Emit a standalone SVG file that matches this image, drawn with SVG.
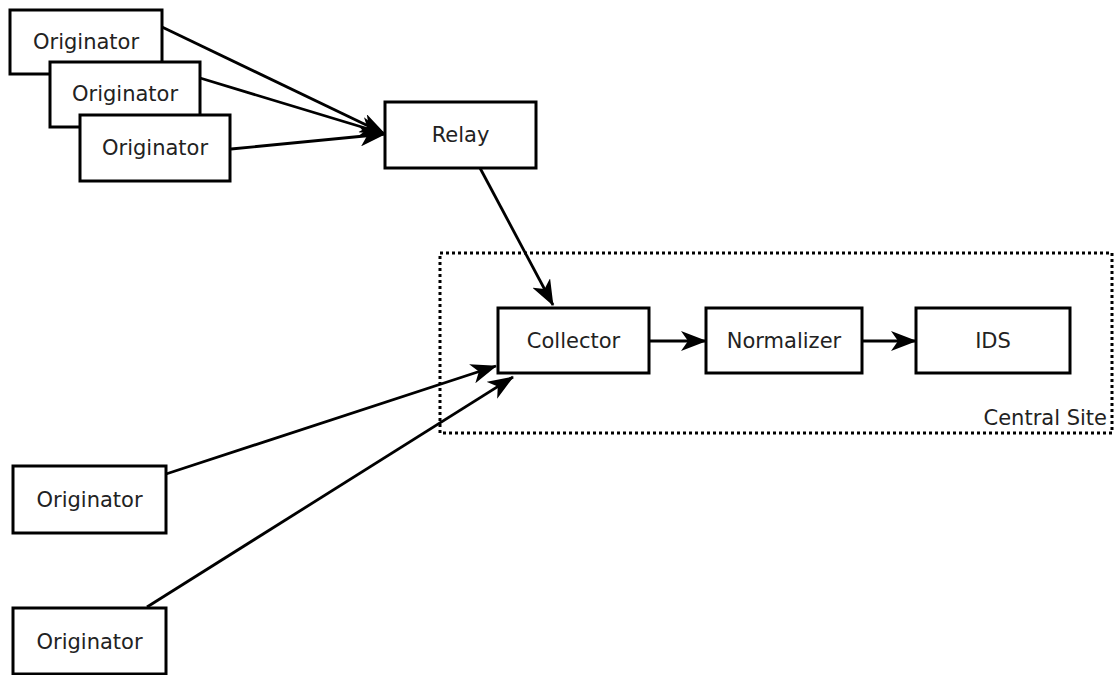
<svg xmlns="http://www.w3.org/2000/svg" width="1118" height="675" viewBox="0 0 1118 675">
<style>
  .box { fill: #fff; stroke: #000; stroke-width: 3; }
  .lbl { font-family: "DejaVu Sans", "Liberation Sans", sans-serif; font-size: 21px; fill: #222; text-anchor: middle; }
  .edge { fill: none; stroke: #000; stroke-width: 2.8; marker-end: url(#arr); }
  .site { fill: none; stroke: #000; stroke-width: 3; stroke-dasharray: 3 3; }
</style>
<defs>
  <marker id="arr" viewBox="0 0 26 20" refX="25" refY="10" markerWidth="26" markerHeight="20" markerUnits="userSpaceOnUse" orient="auto">
    <path d="M0,0 L26,10 L0,20 L7,10 Z" fill="#000"/>
  </marker>
</defs>
<rect width="1118" height="675" fill="#fff"/>
<g id="central-site">
  <rect class="site" x="440" y="253" width="672" height="180"/>
  <text class="lbl" x="1107" y="425" style="text-anchor:end">Central Site</text>
</g>
<g id="connectors">
  <path class="edge" d="M162,27 L385,134"/>
  <path class="edge" d="M200,78 L385,134"/>
  <path class="edge" d="M231,149 L385,134"/>
  <path class="edge" d="M480,168 L553,305"/>
  <path class="edge" d="M649,341 L706,341"/>
  <path class="edge" d="M862,341 L916,341"/>
  <path class="edge" d="M166,474 L496,366"/>
  <path class="edge" d="M147,607 L513,377"/>
</g>
<g id="originator1"><rect class="box" x="10" y="10" width="152" height="64"/><text class="lbl" x="86" y="49">Originator</text></g>
<g id="originator2"><rect class="box" x="50" y="62" width="150" height="65"/><text class="lbl" x="125" y="101">Originator</text></g>
<g id="originator3"><rect class="box" x="80" y="115" width="150" height="66"/><text class="lbl" x="155" y="155">Originator</text></g>
<g id="relay"><rect class="box" x="385" y="102" width="151" height="66"/><text class="lbl" x="460.5" y="142">Relay</text></g>
<g id="collector"><rect class="box" x="498" y="308" width="151" height="65"/><text class="lbl" x="573.5" y="348">Collector</text></g>
<g id="normalizer"><rect class="box" x="706" y="308" width="156" height="65"/><text class="lbl" x="784" y="348">Normalizer</text></g>
<g id="ids"><rect class="box" x="916" y="308" width="154" height="65"/><text class="lbl" x="993" y="348">IDS</text></g>
<g id="originator4"><rect class="box" x="13" y="466" width="153" height="67"/><text class="lbl" x="89.5" y="507">Originator</text></g>
<g id="originator5"><rect class="box" x="13" y="608" width="153" height="66"/><text class="lbl" x="89.5" y="649">Originator</text></g>
</svg>
